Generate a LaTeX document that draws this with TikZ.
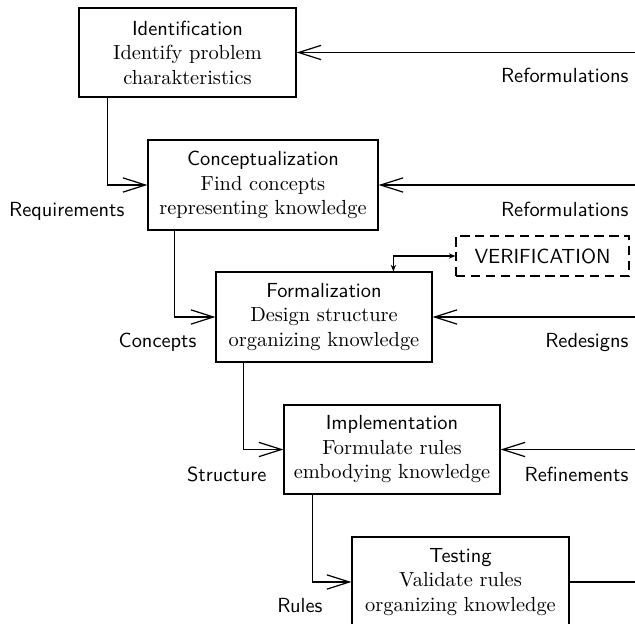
\documentclass[tikz,border=0pt]{standalone}
\usetikzlibrary{arrows.meta}
\begin{document}
\def\u{0.49pt}
\begin{tikzpicture}[x=0.49pt,y=-0.49pt,
  line width=0.6pt,
  phase/.style={draw, align=center, inner sep=0pt, font=\normalsize},
  openarrow/.style={-{Straight Barb[length=11pt,width=7pt,line width=0.6pt]}},
  smallarrows/.style={{Stealth[length=3.2pt,width=2.6pt]}-{Stealth[length=3.2pt,width=2.6pt]}},
  lbl/.style={font=\sffamily, inner sep=0pt},
  checkbox/.style={draw, dashed, dash pattern=on 4.5pt off 2.8pt, font=\sffamily, inner sep=0pt}]
\useasboundingbox (0,0) rectangle (635,624);
\clip (0,0) rectangle (635,624);

% phase boxes
\node[phase, minimum width=217*\u, minimum height=89*\u] (ident) at (187.5,52.5)
  {\textsf{Identification}\\Identify problem\\charakteristics};
\node[phase, minimum width=230*\u, minimum height=90*\u] (concept) at (263,185)
  {\textsf{Conceptualization}\\Find concepts\\representing knowledge};
\node[phase, minimum width=216*\u, minimum height=90*\u] (formal) at (324,317)
  {\textsf{Formalization}\\Design structure\\organizing knowledge};
\node[phase, minimum width=216*\u, minimum height=89*\u] (impl) at (392,449.5)
  {\textsf{Implementation}\\Formulate rules\\embodying knowledge};
\node[phase, minimum width=217*\u, minimum height=90*\u] (test) at (460.5,582)
  {\textsf{Testing}\\Validate rules\\organizing knowledge};
\node[checkbox, minimum width=173*\u, minimum height=40*\u] (verif) at (542.5,256) {VERIFICATION};

% forward flow
\draw[openarrow] (ident.south west) ++(29,0) |- (concept.west);
\draw[openarrow] (concept.south west) ++(27,0) |- (formal.west);
\draw[openarrow] (formal.south west) ++(28,0) |- (impl.west);
\draw[openarrow] (impl.south west) ++(29,0) |- (test.west);

% feedback lines entering from the right
\coordinate (fb1) at (660,52.5);
\coordinate (fb2) at (660,185);
\coordinate (fb3) at (660,317);
\coordinate (fb4) at (660,449.5);
\coordinate (fb5) at (660,582);
\draw[openarrow] (fb1) -- (ident.east);
\draw[openarrow] (fb2) -- (concept.east);
\draw[openarrow] (fb3) -- (formal.east);
\draw[openarrow] (fb4) -- (impl.east);
\draw (test.east) -- (fb5);

% verification link
\draw[smallarrows] (formal.north west) ++(178,0) |- (verif.west);

% labels
\node[lbl, anchor=base east] (l1) at (629,83) {Reformulations};
\node[lbl, anchor=base east] (l2) at (629,216.5) {Reformulations};
\node[lbl, anchor=base east] (l3) at (629,347) {Redesigns};
\node[lbl, anchor=base east] (l4) at (629,481.5) {Refinements};
\node[lbl, anchor=base east] (l5) at (125,216.5) {Requirements};
\node[lbl, anchor=base east] (l6) at (197,347) {Concepts};
\node[lbl, anchor=base east] (l7) at (267,481.5) {Structure};
\node[lbl, anchor=base east] (l8) at (323,612) {Rules};
\end{tikzpicture}
\end{document}
